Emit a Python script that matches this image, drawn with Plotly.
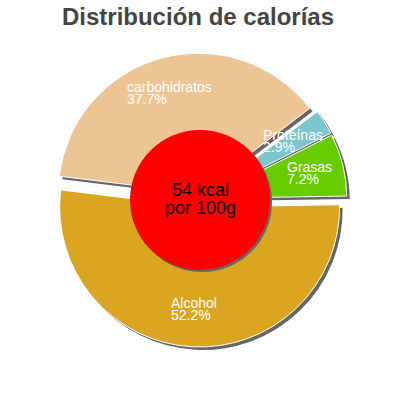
import numpy as np
import plotly.graph_objects as go

# ============================================================
# DATA
# ============================================================

labels = ["carbohidratos", "Proteínas", "Grasas", "Alcohol"]
values = [37.7, 2.9, 7.2, 52.2]
colors = ["#EDC493", "#7CC5CD", "#66CC00", "#DAA520"]
kcal_text = ["54 kcal", "por 100g"]
title_text = "Distribución de calorías"

# ============================================================
# SETTINGS  (positions in page pixels)
# ============================================================

W, H = 400, 400
CX, CY = 200, 200      # pie centre
R = 140                # outer radius
PULL = 0.05
ROT = 277              # start angle, clockwise from 12 o'clock
R_IN = 70              # red circle radius
SHADOW = 3
LAB_R = 110            # label distance from centre
CHAR_W = 6.9           # approx width of a label character
SHADOW_COL = "#666666"
FONT = "Liberation Sans"


def px(x):
    return x / W


def py(y):
    return 1 - y / H


def dom(cx, cy, half):
    return dict(x=[px(cx - half), px(cx + half)], y=[py(cy + half), py(cy - half)])


pie_common = dict(values=values, labels=labels, sort=False, direction="clockwise",
                  rotation=ROT, pull=[PULL] * len(values), textinfo="none", showlegend=False)

fig = go.Figure()

# shadow of the ring
fig.add_trace(go.Pie(domain=dom(CX + SHADOW, CY + SHADOW, R * (1 + PULL)),
                     marker=dict(colors=[SHADOW_COL] * len(values), line=dict(width=0)),
                     hoverinfo="skip", **pie_common))

# main ring
fig.add_trace(go.Pie(domain=dom(CX, CY, R * (1 + PULL)),
                     marker=dict(colors=colors, line=dict(color="white", width=1)),
                     hoverinfo="label+percent", **pie_common))

# centre circle + shadow
fig.add_trace(go.Pie(values=[1], domain=dom(CX + 2, CY + 2, R_IN), sort=False,
                     marker=dict(colors=[SHADOW_COL], line=dict(width=0)),
                     textinfo="none", hoverinfo="skip", showlegend=False))
fig.add_trace(go.Pie(values=[1], domain=dom(CX, CY, R_IN), sort=False,
                     marker=dict(colors=["#FF0000"], line=dict(width=0)),
                     textinfo="none", hoverinfo="skip", showlegend=False))

# ============================================================
# LABELS
# ============================================================

total = sum(values)
cum = np.cumsum([0] + values[:-1])
for name, v, c in zip(labels, values, cum):
    ang = np.radians(ROT + 360 * (c + v / 2) / total)
    lx = CX + LAB_R * np.sin(ang)
    ly = CY - LAB_R * np.cos(ang)
    left = lx - CHAR_W * len(name) / 2
    for txt, dy in [(name, -6.5), (f"{v / total * 100:.1f}%", 5)]:
        fig.add_annotation(x=px(left), y=py(ly + dy), xref="paper", yref="paper",
                           text=txt, showarrow=False, xanchor="left", yanchor="middle",
                           borderpad=0, font=dict(family=FONT, size=14, color="white"))

for txt, dy in zip(kcal_text, [-10, 8]):
    fig.add_annotation(x=px(CX), y=py(CY + dy), xref="paper", yref="paper",
                       text=txt, showarrow=False, xanchor="center", yanchor="middle",
                       borderpad=0, font=dict(family=FONT, size=18, color="black"))

# ============================================================
# LAYOUT
# ============================================================

fig.update_layout(
    width=W, height=H,
    margin=dict(l=0, r=0, t=0, b=0),
    paper_bgcolor="white",
    title=dict(text=f"<b>{title_text}</b>", x=px(198), xanchor="center", y=py(17), yanchor="middle",
               font=dict(family=FONT, size=24, color="#444444")),
)

# drop the browser's default 8px body margin so page pixels == figure pixels
fig.write_html("out.html", config={"displayModeBar": False},
               post_script="document.body.style.margin = '0';")
